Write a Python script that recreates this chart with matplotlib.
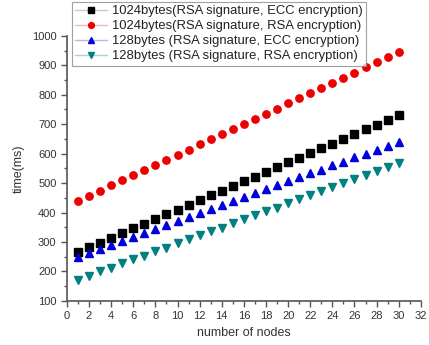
import matplotlib
matplotlib.use("Agg")
import matplotlib.pyplot as plt
from matplotlib.lines import Line2D
from matplotlib.ticker import MultipleLocator

plt.rcParams['font.family'] = ['Liberation Sans', 'DejaVu Sans']

nodes = list(range(1, 31))

# time(ms)
rsa_ecc_1024 = [266, 282, 298, 315, 330, 346, 362, 378, 394, 410,
                426, 442, 458, 474, 490, 506, 522, 538, 554, 570,
                586, 602, 618, 634, 650, 666, 682, 698, 714, 731]
rsa_rsa_1024 = [440, 457, 474, 492, 509, 527, 544, 562, 579, 597,
                614, 632, 649, 666, 684, 701, 719, 736, 753, 771,
                788, 806, 823, 840, 858, 875, 893, 910, 928, 945]
rsa_ecc_128 = [248, 262, 276, 290, 303, 317, 331, 344, 358, 371,
               384, 398, 411, 425, 438, 452, 465, 479, 492, 506,
               519, 533, 546, 560, 573, 587, 600, 614, 627, 640]
rsa_rsa_128 = [172, 186, 200, 213, 227, 241, 254, 268, 281, 295,
               309, 322, 336, 349, 363, 377, 390, 404, 417, 431,
               445, 458, 472, 486, 499, 513, 526, 540, 554, 567]

labels = ['1024bytes(RSA signature, ECC encryption)',
          '1024bytes(RSA signature, RSA encryption)',
          '128bytes (RSA signature, ECC encryption)',
          '128bytes (RSA signature, RSA encryption)']

series = [rsa_ecc_1024, rsa_rsa_1024, rsa_ecc_128, rsa_rsa_128]
colors = ['black', '#ee0000', '#0000dd', '#008080']
light = ['#c8c8c8', '#f4b8b8', '#b8b8f0', '#a8d4d4']
markers = ['s', 'o', '^', 'v']

fig = plt.figure(figsize=(4.29, 3.45), dpi=100)
ax = fig.add_axes([0.156, 0.128, 0.825, 0.768])

handles = []
for ys, c, lc, m, lab in zip(series, colors, light, markers, labels):
    ax.plot(nodes, ys, linestyle='none', marker=m, color=c, markersize=5.3)
    handles.append(Line2D([], [], color=lc, lw=1, marker=m, markersize=4.2,
                          markerfacecolor=c, markeredgecolor=c))

ax.set_xlim(0, 32)
ax.set_ylim(100, 1000)
ax.xaxis.set_major_locator(MultipleLocator(2))
ax.xaxis.set_minor_locator(MultipleLocator(1))
ax.yaxis.set_major_locator(MultipleLocator(100))
ax.yaxis.set_minor_locator(MultipleLocator(50))
ax.spines['top'].set_visible(False)
ax.spines['right'].set_visible(False)
for s in ('left', 'bottom'):
    ax.spines[s].set_color('#555555')
    ax.spines[s].set_linewidth(1.2)
ax.tick_params(which='major', direction='out', length=4, width=1, colors='#555555',
               labelsize=8, labelcolor='#333333')
ax.tick_params(which='minor', direction='out', length=2, width=1, colors='#555555')

ax.set_xlabel('number of nodes', fontsize=9, color='#333333', labelpad=4)
ax.set_ylabel('time(ms)', fontsize=9, color='#333333', labelpad=5)

leg = ax.legend(handles, labels, loc='upper left', bbox_to_anchor=(0.015, 1.128),
                fontsize=9.4, frameon=True, fancybox=False, handlelength=2.4,
                handletextpad=0.4, labelspacing=0.22, borderpad=0.25, borderaxespad=0)
leg.get_frame().set_edgecolor('#888888')
leg.get_frame().set_linewidth(0.8)
for t in leg.get_texts():
    t.set_color('#222222')

fig.savefig('out.png', dpi=100)
